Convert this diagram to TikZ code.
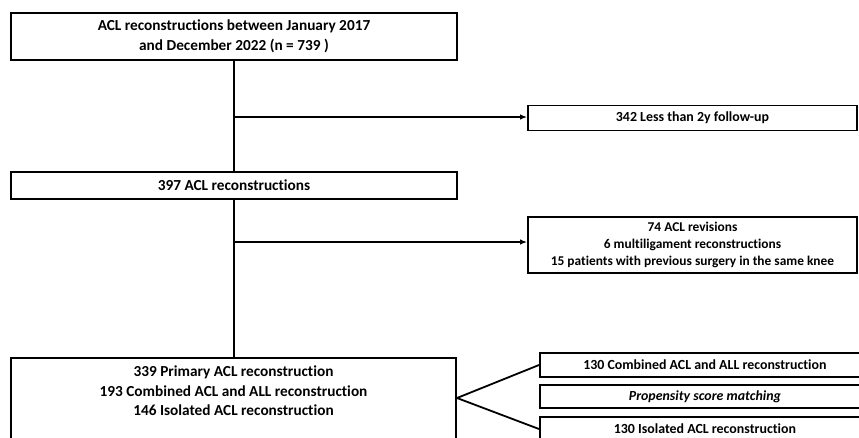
\documentclass[tikz,border=0pt]{standalone}
\usepackage{fontspec}
\setmainfont{Carlito}[Ligatures=NoCommon]
\usetikzlibrary{arrows.meta}
\begin{document}
\begin{tikzpicture}[x=1pt,y=-1pt,
  box/.style={draw=black, line width=2pt, rectangle, inner sep=0pt, align=center, font=\bfseries\fontsize{15.3}{19.5}\selectfont},
  sbox/.style={draw=black, line width=1.8pt, rectangle, inner sep=0pt, align=center, font=\bfseries\fontsize{13.9}{17}\selectfont},
  conn/.style={line width=1.8pt},
  arrow/.style={line width=1.6pt, -{Latex[length=7pt,width=5.5pt]}}]
\useasboundingbox (0,0) rectangle (859,437);
\clip (0,0) rectangle (859,437);
\fill[white] (0,0) rectangle (859,437);

\node[box, minimum width=446, minimum height=47] (b1) at (234,36.5)
  {ACL reconstructions between January 2017\\and December 2022 (n = 739 )};
\node[sbox, minimum width=329, minimum height=25] (b2) at (692.5,118)
  {342 Less than 2y follow-up};
\node[box, minimum width=446, minimum height=27] (b3) at (234,185.5)
  {397 ACL reconstructions};
\node[sbox, minimum width=329, minimum height=56, font=\bfseries\fontsize{13.4}{17}\selectfont] (b4) at (692.5,245)
  {74 ACL revisions\\6 multiligament reconstructions\\15 patients with previous surgery in the same knee};
\node[box, minimum width=445, minimum height=100, anchor=north] (b5) at (233.5,357) {};
\node[box, draw=none, anchor=center] (b5t) at (233.5,391)
  {339 Primary ACL reconstruction\\193 Combined ACL and ALL reconstruction\\146 Isolated ACL reconstruction};
\node[sbox, minimum width=330, minimum height=24, anchor=west] (ba) at (539,365)
  {130 Combined ACL and ALL reconstruction};
\node[sbox, minimum width=330, minimum height=23, anchor=west] (bb) at (539,396.5)
  {\itshape Propensity score matching};
\node[sbox, minimum width=330, minimum height=24, anchor=west] (bc) at (539,429)
  {130 Isolated ACL reconstruction};

\coordinate (apex) at (b5.east |- 0,398);
\coordinate (j1) at (b1.south |- 0,117);
\coordinate (j2) at (b3.south |- 0,242);

\draw[conn] (b1.south) -- (b3.north);
\draw[conn] (b3.south) -- (b3.south |- b5.north);
\draw[arrow] (j1) -- (b2.west |- j1);
\draw[arrow] (j2) -- (b4.west |- j2);
\draw[conn] (ba.west) -- (apex) -- (bc.west);
\end{tikzpicture}
\end{document}
